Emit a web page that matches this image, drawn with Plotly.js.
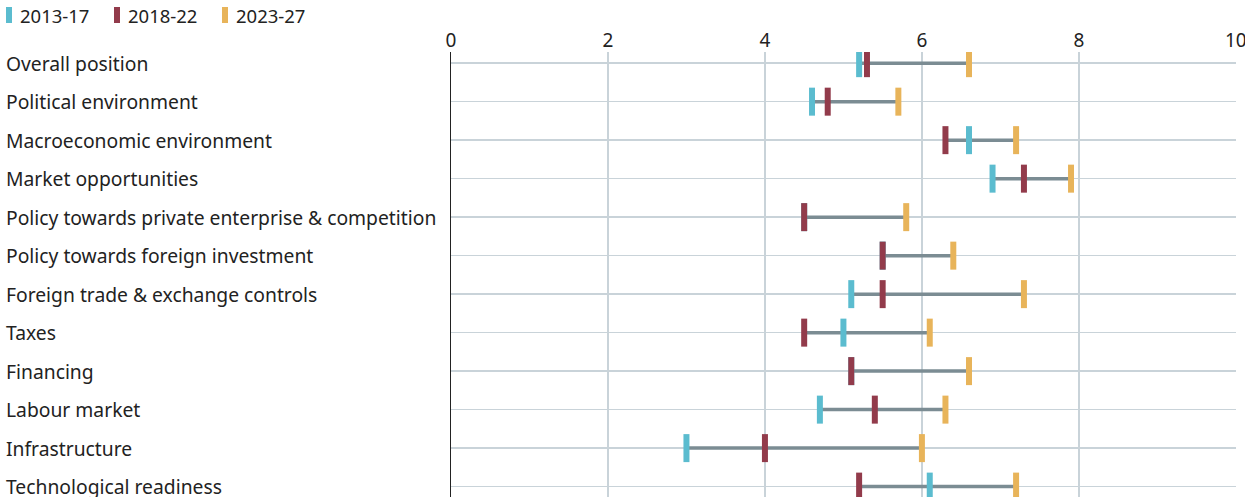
<!DOCTYPE html>
<html><head><meta charset="utf-8">
<script src="https://cdn.plot.ly/plotly-3.0.1.min.js"></script>
<style>html,body{margin:0;padding:0;background:#fff}#chart{width:1245px;height:497px}</style>
</head><body><div id="chart"></div>
<script>
const categories = ["Overall position","Political environment","Macroeconomic environment","Market opportunities","Policy towards private enterprise & competition","Policy towards foreign investment","Foreign trade & exchange controls","Taxes","Financing","Labour market","Infrastructure","Technological readiness"];
const s2013 = [5.2,4.6,6.6,6.9,4.5,5.5,5.1,5.0,5.1,4.7,3.0,6.1];
const s2018 = [5.3,4.8,6.3,7.3,4.5,5.5,5.5,4.5,5.1,5.4,4.0,5.2];
const s2023 = [6.6,5.7,7.2,7.9,5.8,6.4,7.3,6.1,6.6,6.3,6.0,7.2];
const seriesNames = ["2013-17","2018-22","2023-27"];
const colors = ["#5bbccf","#923b4b","#e8b45a"];
const xTicks = [0,2,4,6,8,10];

const L=451, W=785, T=52, H=445;
const px = p => (p-L)/W;          // pixel x -> paper x
const py = p => (497-p)/H;        // pixel y -> paper y
const lx=[], ly=[];
categories.forEach((c,i)=>{
  const v=[s2013[i],s2018[i],s2023[i]];
  lx.push(Math.min(...v),Math.max(...v),null);
  ly.push(c,c,null);
});
const traces=[{x:lx,y:ly,mode:'lines',line:{color:'#7b8c93',width:3.5},showlegend:false,hoverinfo:'skip'}];
[s2013,s2018,s2023].forEach((s,k)=>{
  traces.push({x:s,y:categories,mode:'markers',name:seriesNames[k],showlegend:false,
    marker:{symbol:'line-ns',size:20,color:colors[k],line:{color:colors[k],width:6}}});
});
const font = {family:'Noto Sans, sans-serif',size:19.3,color:'#222'};
const annotations = categories.map(c=>({xref:'paper',yref:'y',x:px(4),y:c,text:c,showarrow:false,xanchor:'left',yanchor:'middle',font:font}));
const shapes=[];
seriesNames.forEach((n,k)=>{
  const x0 = 6 + k*108;
  shapes.push({type:'rect',xref:'paper',yref:'paper',x0:px(x0),x1:px(x0+6),y0:py(23),y1:py(7),fillcolor:colors[k],line:{width:0}});
  annotations.push({xref:'paper',yref:'paper',x:px(x0+12),y:py(16),text:n,showarrow:false,xanchor:'left',yanchor:'middle',font:{family:'Noto Sans, sans-serif',size:18.5,color:'#222'}});
});
const layout={
  width:1245,height:497,margin:{l:L,r:9,t:T,b:0},
  paper_bgcolor:'#fff',plot_bgcolor:'#fff',
  xaxis:{side:'top',range:[0,10.002],tickvals:xTicks,ticktext:xTicks.map(String),showgrid:true,gridcolor:'#c9d3d9',gridwidth:1.5,zeroline:false,
    tickfont:{family:'Noto Sans, sans-serif',size:19,color:'#222'},ticks:'',ticklabeloverflow:'allow',fixedrange:true},
  yaxis:{type:'category',categoryorder:'array',categoryarray:categories,range:[11.27,-0.29],showticklabels:false,showgrid:true,gridcolor:'#c9d3d9',gridwidth:1.5,
    showline:true,linecolor:'#222',linewidth:1.5,ticks:''},
  showlegend:false,
  annotations:annotations, shapes:shapes
};
Plotly.newPlot('chart',traces,layout,{displayModeBar:false,staticPlot:true});
</script></body></html>
